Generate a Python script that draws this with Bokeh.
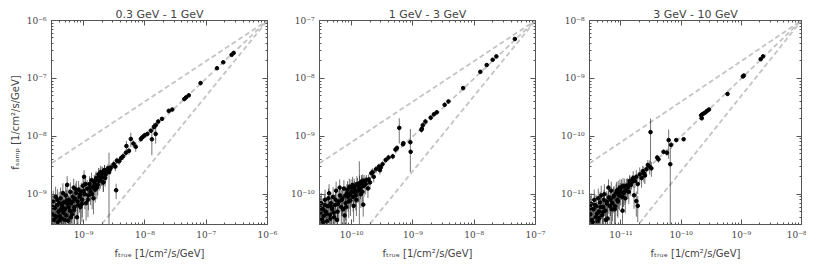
import numpy as np
from bokeh.plotting import figure
from bokeh.layouts import row
from bokeh.models import LogAxis, FixedTicker, CustomJSTickFormatter, Range1d
from bokeh.embed import file_html
from bokeh.resources import INLINE

# ---------------- data ----------------
titles = ["0.3 GeV - 1 GeV", "1 GeV - 3 GeV", "3 GeV - 10 GeV"]
ranges = [(3e-10, 1e-6), (3e-11, 1e-7), (3e-12, 1e-8)]
ref_exponents = [0.7, 1.0, 1.3]

# panel 1 : 0.3 - 1 GeV
x1 = [2.8e-7, 2.6e-7, 1.9e-7, 1.5e-7, 8.1e-8, 5.2e-8, 4.7e-8, 4.4e-8, 2.8e-8, 2.45e-8,
      1.9e-8, 1.65e-8, 1.5e-8, 1.4e-8, 1.5e-8, 1.3e-8, 1.25e-8, 1.1e-8, 1.0e-8, 9.5e-9,
      9.0e-9, 8.6e-9, 5.9e-9, 5.0e-9, 7.1e-9, 6.5e-9, 5.5e-9, 4.9e-9, 4.4e-9, 4.1e-9,
      3.8e-9, 3.5e-9, 3.1e-9, 3.3e-9, 2.8e-9, 2.6e-9, 2.4e-9, 2.2e-9, 2.0e-9, 1.95e-9,
      1.85e-9, 3.4e-9, 2.1e-9,
      3.1e-10, 3.2e-10, 3.3e-10, 3.4e-10, 3.5e-10, 3.6e-10, 3.7e-10, 3.8e-10, 3.9e-10, 4.0e-10,
      4.1e-10, 4.2e-10, 4.3e-10, 4.4e-10, 4.5e-10, 4.6e-10, 4.7e-10, 4.8e-10, 5.0e-10, 5.1e-10,
      5.2e-10, 5.4e-10, 5.5e-10, 5.6e-10, 5.8e-10, 6.0e-10, 6.1e-10, 6.3e-10, 6.5e-10, 6.7e-10,
      6.9e-10, 7.1e-10, 7.3e-10, 7.5e-10, 7.8e-10, 8.0e-10, 8.3e-10, 8.6e-10, 8.9e-10, 9.2e-10,
      9.5e-10, 9.8e-10, 1.02e-9, 1.05e-9, 1.1e-9, 1.15e-9, 1.2e-9, 1.25e-9, 1.3e-9, 1.35e-9,
      1.4e-9, 1.45e-9, 1.5e-9, 1.55e-9, 1.6e-9, 1.7e-9, 1.75e-9, 1.8e-9, 1.9e-9, 2.0e-9,
      2.1e-9, 2.2e-9, 2.3e-9,
      3.15e-10, 3.45e-10, 3.75e-10, 4.05e-10, 4.35e-10, 4.65e-10, 4.95e-10, 5.3e-10, 5.7e-10, 6.2e-10,
      6.6e-10, 7.0e-10, 7.6e-10, 8.1e-10, 8.8e-10, 9.4e-10, 1.0e-9, 1.08e-9, 1.18e-9, 1.28e-9,
      1.38e-9, 1.48e-9, 1.58e-9, 1.65e-9, 1.78e-9, 1.88e-9, 2.05e-9, 2.25e-9, 2.5e-9, 2.7e-9]
y1 = [2.75e-7, 2.55e-7, 1.9e-7, 1.5e-7, 8.3e-8, 5.1e-8, 4.7e-8, 4.4e-8, 2.9e-8, 2.75e-8,
      2.0e-8, 1.8e-8, 1.55e-8, 1.45e-8, 1.1e-8, 8.9e-9, 1.25e-8, 1.1e-8, 1.05e-8, 1.0e-8,
      9.5e-9, 9.0e-9, 9.0e-9, 6.8e-9, 6.6e-9, 7.5e-9, 5.6e-9, 5.2e-9, 4.5e-9, 4.2e-9,
      3.7e-9, 3.8e-9, 3.3e-9, 3.0e-9, 2.9e-9, 2.4e-9, 2.5e-9, 2.6e-9, 2.4e-9, 2.0e-9,
      2.2e-9, 1.17e-9, 1.6e-9,
      4.5e-10, 7.5e-10, 3.6e-10, 5.8e-10, 9.0e-10, 4.0e-10, 6.5e-10, 3.3e-10, 5.0e-10, 7.0e-10,
      4.2e-10, 8.5e-10, 5.5e-10, 3.8e-10, 6.2e-10, 1.05e-9, 4.8e-10, 7.2e-10, 5.6e-10, 9.5e-10,
      4.3e-10, 1.45e-9, 6.8e-10, 3.5e-10, 8.0e-10, 5.2e-10, 1.1e-9, 7.0e-10, 4.5e-10, 9.0e-10,
      1.3e-9, 6.0e-10, 8.3e-10, 1.05e-9, 4.0e-10, 7.5e-10, 1.2e-9, 9.0e-10, 6.0e-10, 1.1e-9,
      8.0e-10, 1.4e-9, 2.0e-9, 1.0e-9, 7.0e-10, 1.25e-9, 9.5e-10, 1.5e-9, 1.1e-9, 1.75e-9,
      1.3e-9, 8.5e-10, 1.6e-9, 1.2e-9, 1.9e-9, 1.45e-9, 2.2e-9, 1.7e-9, 2.4e-9, 2.0e-9,
      1.6e-9, 2.6e-9, 2.2e-9,
      6.0e-10, 4.2e-10, 8.0e-10, 3.5e-10, 6.8e-10, 5.2e-10, 3.6e-10, 7.8e-10, 6.0e-10, 4.0e-10,
      7.5e-10, 5.3e-10, 1.2e-9, 6.5e-10, 1.0e-9, 6.8e-10, 1.15e-9, 1.5e-9, 8.0e-10, 1.3e-9,
      1.0e-9, 1.4e-9, 1.75e-9, 1.3e-9, 2.0e-9, 1.8e-9, 2.3e-9, 1.9e-9, 2.8e-9, 2.7e-9]
e1 = [1.0e-8, 1.0e-8, 8e-9, 7e-9, 4e-9, 3e-9, 3e-9, 3e-9, 2e-9, 2e-9,
      1.5e-9, 2e-9, 2e-9, 2.5e-9, 3.5e-9, 4.2e-9, 1e-9, 1e-9, 1e-9, 1e-9,
      1e-9, 1e-9, 2.5e-9, 1.5e-9, 1.2e-9, 1e-9, 8e-10, 7e-10, 6e-10, 6e-10,
      5e-10, 5e-10, 5e-10, 5e-10, 5e-10, 2.8e-9, 6e-10, 6e-10, 6e-10, 6e-10,
      6e-10, 3.5e-10, 5e-10,
      3.0e-10, 4.0e-10, 2.5e-10, 3.5e-10, 4.5e-10, 2.8e-10, 3.5e-10, 2.5e-10, 3.0e-10, 4.0e-10,
      3.0e-10, 4.5e-10, 3.2e-10, 2.6e-10, 3.5e-10, 5.0e-10, 3.0e-10, 3.8e-10, 3.3e-10, 4.8e-10,
      2.8e-10, 6.0e-10, 3.6e-10, 2.4e-10, 4.2e-10, 3.2e-10, 5.0e-10, 3.8e-10, 2.8e-10, 4.5e-10,
      5.5e-10, 3.5e-10, 4.0e-10, 4.8e-10, 2.6e-10, 3.8e-10, 5.0e-10, 4.2e-10, 3.4e-10, 4.8e-10,
      4.0e-10, 5.5e-10, 6.0e-10, 4.5e-10, 3.5e-10, 5.0e-10, 4.2e-10, 5.5e-10, 4.5e-10, 6.0e-10,
      5.0e-10, 4.0e-10, 5.5e-10, 4.8e-10, 6.0e-10, 5.0e-10, 6.5e-10, 5.5e-10, 7.0e-10, 6.0e-10,
      5.0e-10, 6.0e-10, 5.5e-10,
      3.5e-10, 2.8e-10, 4.2e-10, 2.4e-10, 3.8e-10, 3.1e-10, 2.5e-10, 4.0e-10, 3.4e-10, 2.6e-10,
      3.8e-10, 3.2e-10, 5.0e-10, 3.5e-10, 4.5e-10, 3.5e-10, 5.0e-10, 5.5e-10, 4.0e-10, 5.0e-10,
      4.5e-10, 5.0e-10, 5.5e-10, 4.8e-10, 6.0e-10, 5.5e-10, 6.0e-10, 5.5e-10, 5.0e-10, 5.0e-10]

# panel 2 : 1 - 3 GeV
x2 = [4.6e-8, 2.3e-8, 2.0e-8, 1.6e-8, 1.26e-8, 6.6e-9, 3.8e-9, 3.3e-9, 2.45e-9, 2.2e-9,
      1.95e-9, 1.6e-9, 1.45e-9, 1.4e-9, 1.38e-9, 6.0e-10, 9.1e-10, 9.2e-10, 7.0e-10, 6.9e-10,
      5.2e-10, 5.5e-10, 4.7e-10, 4.0e-10, 3.6e-10, 3.2e-10, 2.8e-10, 2.9e-10, 2.5e-10, 2.2e-10,
      2.3e-10, 2.1e-10, 3.0e-10, 1.7e-10, 1.34e-10, 1.6e-10, 1.85e-10, 1.55e-10,
      3.1e-11, 3.2e-11, 3.3e-11, 3.4e-11, 3.5e-11, 3.7e-11, 3.8e-11, 4.0e-11, 4.1e-11, 4.3e-11,
      4.4e-11, 4.6e-11, 4.8e-11, 5.0e-11, 5.2e-11, 5.4e-11, 5.6e-11, 5.9e-11, 6.2e-11, 6.5e-11,
      6.8e-11, 7.1e-11, 7.5e-11, 7.7e-11, 8.0e-11, 8.4e-11, 8.8e-11, 9.2e-11, 9.6e-11, 1.0e-10,
      1.04e-10, 1.08e-10, 1.12e-10, 1.17e-10, 1.22e-10, 1.27e-10, 1.4e-10, 1.45e-10, 1.5e-10, 1.9e-10,
      2.0e-10,
      3.15e-11, 3.45e-11, 3.65e-11, 3.9e-11, 4.2e-11, 4.5e-11, 4.7e-11, 5.1e-11, 5.5e-11, 5.8e-11,
      6.0e-11, 6.4e-11, 6.9e-11, 7.3e-11, 7.9e-11, 8.2e-11, 8.6e-11, 9.0e-11, 9.4e-11, 9.8e-11,
      1.06e-10, 1.1e-10, 1.15e-10, 1.2e-10, 1.25e-10, 1.3e-10, 1.35e-10, 1.42e-10, 1.48e-10, 1.52e-10,
      1.6e-10, 1.75e-10]
y2 = [4.8e-8, 2.4e-8, 2.1e-8, 1.7e-8, 1.3e-8, 6.8e-9, 4.0e-9, 3.5e-9, 2.6e-9, 2.4e-9,
      2.1e-9, 1.8e-9, 1.55e-9, 1.35e-9, 1.3e-9, 1.4e-9, 7.9e-10, 5.4e-10, 7.6e-10, 7.3e-10,
      5.9e-10, 6.3e-10, 4.5e-10, 4.3e-10, 3.9e-10, 3.3e-10, 3.0e-10, 2.6e-10, 2.7e-10, 2.4e-10,
      2.0e-10, 2.3e-10, 2.9e-10, 1.5e-10, 1.2e-10, 1.4e-10, 1.26e-10, 6.6e-11,
      4.8e-11, 7.0e-11, 3.7e-11, 5.5e-11, 4.2e-11, 8.0e-11, 5.0e-11, 3.4e-11, 6.2e-11, 1.04e-10,
      4.4e-11, 7.0e-11, 5.6e-11, 9.0e-11, 4.0e-11, 6.5e-11, 1.15e-10, 5.0e-11, 7.5e-11, 9.5e-11,
      6.0e-11, 8.5e-11, 1.25e-10, 4.3e-11, 7.0e-11, 1.05e-10, 9.0e-11, 1.35e-10, 7.8e-11, 1.1e-10,
      1.45e-10, 6.3e-11, 1.2e-10, 9.5e-11, 1.5e-10, 1.15e-10, 1.3e-10, 1.65e-10, 1.1e-10, 1.8e-10,
      1.6e-10,
      5.8e-11, 3.3e-11, 6.5e-11, 4.6e-11, 8.5e-11, 3.8e-11, 6.0e-11, 4.8e-11, 8.0e-11, 3.6e-11,
      6.8e-11, 1.3e-10, 8.0e-11, 5.5e-11, 9.5e-11, 6.0e-11, 1.2e-10, 7.5e-11, 1.0e-10, 1.3e-10,
      9.0e-11, 1.35e-10, 1.05e-10, 8.0e-11, 1.4e-10, 1.2e-10, 1.55e-10, 1.0e-10, 1.45e-10, 1.7e-10,
      1.7e-10, 1.75e-10]
e2 = [2e-9, 1e-9, 1e-9, 1e-9, 8e-10, 4e-10, 3e-10, 3e-10, 2e-10, 2e-10,
      2e-10, 2e-10, 2e-10, 1.5e-10, 1.5e-10, 6.5e-10, 5.5e-10, 4e-11, 6e-11, 6e-11,
      6e-11, 6e-11, 5e-11, 5e-11, 4e-11, 4e-11, 4e-11, 4e-11, 4e-11, 4e-11,
      4e-11, 4e-11, 4e-11, 5e-11, 2.5e-10, 5e-11, 4e-11, 2.5e-11,
      2.5e-11, 3.5e-11, 2.2e-11, 3.0e-11, 2.5e-11, 4.0e-11, 2.8e-11, 2.0e-11, 3.2e-11, 4.5e-11,
      2.6e-11, 3.6e-11, 3.0e-11, 4.2e-11, 2.4e-11, 3.4e-11, 5.0e-11, 2.8e-11, 3.8e-11, 4.5e-11,
      3.2e-11, 4.0e-11, 5.0e-11, 2.5e-11, 3.5e-11, 4.5e-11, 4.0e-11, 5.0e-11, 3.6e-11, 4.5e-11,
      5.5e-11, 3.0e-11, 4.8e-11, 4.2e-11, 5.5e-11, 4.5e-11, 4.8e-11, 5.0e-11, 4.0e-11, 4.0e-11,
      4.0e-11,
      3.2e-11, 2.0e-11, 3.5e-11, 2.6e-11, 4.0e-11, 2.3e-11, 3.2e-11, 2.7e-11, 3.8e-11, 2.2e-11,
      3.5e-11, 5.0e-11, 3.8e-11, 3.0e-11, 4.2e-11, 3.2e-11, 4.8e-11, 3.6e-11, 4.4e-11, 5.0e-11,
      4.0e-11, 5.0e-11, 4.5e-11, 3.8e-11, 5.0e-11, 4.6e-11, 5.5e-11, 4.2e-11, 5.0e-11, 5.0e-11,
      4.5e-11, 4.0e-11]

# panel 3 : 3 - 10 GeV
x3 = [2.3e-9, 2.1e-9, 1.1e-9, 1.06e-9, 5.9e-10, 2.9e-10, 2.7e-10, 2.55e-10, 2.4e-10, 2.25e-10,
      2.15e-10, 2.2e-10, 3.1e-11, 6.2e-11, 1.1e-10, 8.3e-11, 6.8e-11, 6.6e-11, 5.1e-11, 5.8e-11,
      4.0e-11, 4.2e-11, 3.0e-11, 3.2e-11, 2.65e-11, 2.4e-11, 2.05e-11, 2.2e-11, 1.8e-11, 1.6e-11,
      1.9e-11, 1.4e-11, 1.27e-11, 1.9e-11, 1.06e-11, 1.65e-11, 1.8e-11,
      3.1e-12, 3.2e-12, 3.3e-12, 3.5e-12, 3.6e-12, 3.8e-12, 3.9e-12, 4.1e-12, 4.3e-12, 4.5e-12,
      4.7e-12, 4.9e-12, 5.1e-12, 5.3e-12, 5.5e-12, 5.8e-12, 6.0e-12, 6.3e-12, 6.6e-12, 6.9e-12,
      7.2e-12, 7.5e-12, 7.9e-12, 8.3e-12, 8.7e-12, 9.0e-12, 9.4e-12, 9.8e-12, 1.02e-11, 1.1e-11,
      1.15e-11, 1.2e-11, 1.3e-11, 1.35e-11, 1.45e-11,
      3.15e-12, 3.4e-12, 3.7e-12, 4.0e-12, 4.2e-12, 4.4e-12, 4.6e-12, 5.0e-12, 5.2e-12, 5.6e-12,
      5.9e-12, 6.2e-12, 6.7e-12, 7.0e-12, 7.7e-12, 8.0e-12, 8.5e-12, 8.9e-12, 9.2e-12, 9.6e-12,
      1.05e-11, 1.08e-11, 1.13e-11, 1.18e-11, 1.25e-11, 1.4e-11, 1.5e-11, 1.55e-11, 1.7e-11, 2.3e-11,
      2.5e-11, 2.8e-11]
y3 = [2.4e-9, 2.15e-9, 1.12e-9, 1.08e-9, 5.4e-10, 2.9e-10, 2.75e-10, 2.6e-10, 2.5e-10, 2.4e-10,
      2.3e-10, 2.05e-10, 1.18e-10, 8.6e-11, 8.9e-11, 8.6e-11, 7.1e-11, 3.3e-11, 5.4e-11, 5.2e-11,
      4.3e-11, 4.0e-11, 3.0e-11, 2.8e-11, 2.7e-11, 2.3e-11, 2.2e-11, 1.9e-11, 2.0e-11, 1.9e-11,
      1.5e-11, 1.55e-11, 1.4e-11, 6.3e-12, 5.2e-12, 9.6e-12, 7.6e-12,
      4.5e-12, 6.8e-12, 3.6e-12, 5.5e-12, 8.0e-12, 4.0e-12, 6.2e-12, 3.4e-12, 5.0e-12, 7.2e-12,
      9.5e-12, 4.4e-12, 6.0e-12, 1.0e-11, 5.2e-12, 7.5e-12, 3.8e-12, 8.8e-12, 6.2e-12, 1.15e-11,
      7.0e-12, 9.0e-12, 5.5e-12, 1.05e-11, 8.0e-12, 1.2e-11, 9.5e-12, 1.1e-11, 1.3e-11, 1.05e-11,
      1.35e-11, 1.15e-11, 1.3e-11, 1.1e-11, 1.45e-11,
      5.8e-12, 3.3e-12, 6.5e-12, 4.6e-12, 8.5e-12, 3.9e-12, 6.0e-12, 4.9e-12, 8.0e-12, 3.6e-12,
      6.8e-12, 1.3e-11, 8.0e-12, 5.5e-12, 9.5e-12, 6.2e-12, 1.15e-11, 7.5e-12, 1.0e-11, 1.3e-11,
      9.0e-12, 1.4e-11, 1.1e-11, 8.5e-12, 1.4e-11, 1.7e-11, 1.6e-11, 1.75e-11, 1.7e-11, 2.5e-11,
      2.1e-11, 3.2e-11]
e3 = [8e-11, 8e-11, 5e-11, 5e-11, 3e-11, 1.5e-11, 1.5e-11, 1.5e-11, 1.5e-11, 1.5e-11,
      1.5e-11, 1.5e-11, 8.5e-11, 4.5e-11, 5e-12, 5e-12, 1e-11, 3e-11, 5e-12, 6e-12,
      5e-12, 5e-12, 8e-12, 8e-12, 7e-12, 7e-12, 7e-12, 6e-12, 6e-12, 6e-12,
      5e-12, 5e-12, 5e-12, 3e-12, 5e-12, 4e-12, 3.5e-12,
      2.8e-12, 3.5e-12, 2.3e-12, 3.0e-12, 4.0e-12, 2.4e-12, 3.3e-12, 2.2e-12, 2.8e-12, 3.8e-12,
      4.5e-12, 2.6e-12, 3.2e-12, 4.8e-12, 2.8e-12, 3.8e-12, 2.4e-12, 4.2e-12, 3.3e-12, 5.0e-12,
      3.6e-12, 4.2e-12, 3.0e-12, 4.8e-12, 3.8e-12, 5.0e-12, 4.2e-12, 4.6e-12, 5.0e-12, 4.5e-12,
      5.0e-12, 4.5e-12, 4.8e-12, 4.2e-12, 5.0e-12,
      3.2e-12, 2.0e-12, 3.5e-12, 2.6e-12, 4.0e-12, 2.3e-12, 3.2e-12, 2.7e-12, 3.8e-12, 2.2e-12,
      3.5e-12, 5.0e-12, 3.8e-12, 3.0e-12, 4.2e-12, 3.2e-12, 4.8e-12, 3.6e-12, 4.4e-12, 5.0e-12,
      4.0e-12, 5.0e-12, 4.5e-12, 3.8e-12, 4.5e-12, 4.5e-12, 4.0e-12, 4.0e-12, 4.0e-12, 6.0e-12,
      6.0e-12, 7.0e-12]

xs = [x1, x2, x3]
ys = [y1, y2, y3]
es = [e1, e2, e3]

# ---------------- styling ----------------
FRAME = "#555555"
TICK_FONT = "DejaVu Serif"
LABEL_FONT = "DejaVu Sans"

sup_js = """
const e = Math.round(Math.log10(tick));
const sup = {'-':'\u207b','0':'\u2070','1':'\u00b9','2':'\u00b2','3':'\u00b3','4':'\u2074','5':'\u2075','6':'\u2076','7':'\u2077','8':'\u2078','9':'\u2079'};
return '10' + String(e).split('').map(c => sup[c]).join('');
"""

widths = [282, 270, 248]
left_borders = [42, 26, 23]
right_borders = [21, 23, 5]


def make_ticker(lo, hi):
    k0 = int(np.floor(np.log10(lo)))
    k1 = int(np.ceil(np.log10(hi)))
    majors = [10.0 ** k for k in range(k0, k1 + 1)]
    minors = [m * 10.0 ** k for k in range(k0, k1 + 1) for m in range(2, 10)]
    return FixedTicker(ticks=majors, minor_ticks=minors)


def style_axis(ax, show_labels):
    ax.axis_line_color = FRAME
    ax.major_tick_line_color = FRAME
    ax.minor_tick_line_color = FRAME
    ax.major_tick_in = 5
    ax.major_tick_out = 0
    ax.minor_tick_in = 2
    ax.minor_tick_out = 0
    ax.major_label_text_font = TICK_FONT
    ax.major_label_text_font_size = "9px"
    ax.major_label_text_color = "#444444"
    ax.major_label_standoff = 5
    if not show_labels:
        ax.major_label_text_font_size = "1px"
        ax.major_label_text_color = None
        ax.major_label_standoff = 0


figs = []
for i in range(3):
    lo, hi = ranges[i]
    p = figure(width=widths[i], height=256, x_axis_type="log", y_axis_type="log",
               x_range=Range1d(lo, hi), y_range=Range1d(lo, hi),
               output_backend="svg", toolbar_location=None,
               min_border_left=left_borders[i], min_border_right=right_borders[i],
               min_border_top=13, min_border_bottom=33, title=titles[i])
    p.title.align = "center"
    p.title.text_font = LABEL_FONT
    p.title.text_font_style = "normal"
    p.title.text_font_size = "11px"
    p.title.standoff = 0
    p.title.offset = 0
    p.grid.visible = False
    p.outline_line_color = FRAME
    p.background_fill_color = "white"
    p.border_fill_color = "white"

    # reference lines
    lx = np.logspace(np.log10(lo), np.log10(hi), 50)
    for a in ref_exponents:
        p.line(lx, hi * (lx / hi) ** a, line_color="#c4c4c4", line_width=1.8,
               line_dash="5 3")

    x = np.array(xs[i])
    y = np.array(ys[i])
    e = np.array(es[i])
    ylo = np.where(y - e > 0, y - e, y * 1e-3)
    yhi = y + e
    p.segment(x0=x, y0=ylo, x1=x, y1=yhi, line_color="#222222", line_width=0.9,
              line_alpha=0.7)
    p.scatter(x, y, size=3.6, color="black")

    tick = make_ticker(lo, hi)
    fmt = CustomJSTickFormatter(code=sup_js)
    p.xaxis.ticker = tick
    p.yaxis.ticker = tick
    p.xaxis.formatter = fmt
    p.yaxis.formatter = fmt
    style_axis(p.xaxis[0], True)
    style_axis(p.yaxis[0], True)
    p.xaxis.axis_label = "f\u209c\u1d63\u1d64\u2091 [1/cm\u00b2/s/GeV]"
    p.xaxis.axis_label_text_font = LABEL_FONT
    p.xaxis.axis_label_text_font_style = "normal"
    p.xaxis.axis_label_text_font_size = "10px"
    p.xaxis.axis_label_standoff = 5
    if i == 0:
        p.yaxis.axis_label = "f\u209b\u2090\u2098\u209a [1/cm\u00b2/s/GeV]"
        p.yaxis.axis_label_text_font = LABEL_FONT
        p.yaxis.axis_label_text_font_style = "normal"
        p.yaxis.axis_label_text_font_size = "10px"
        p.yaxis.axis_label_standoff = 3

    top = LogAxis(ticker=make_ticker(lo, hi), formatter=CustomJSTickFormatter(code=sup_js))
    right = LogAxis(ticker=make_ticker(lo, hi), formatter=CustomJSTickFormatter(code=sup_js))
    style_axis(top, False)
    style_axis(right, False)
    p.add_layout(top, "above")
    p.add_layout(right, "right")
    figs.append(p)

layout = row(*figs, margin=(5, 0, 0, 6))
open("out.html", "w").write(file_html(layout, INLINE))
